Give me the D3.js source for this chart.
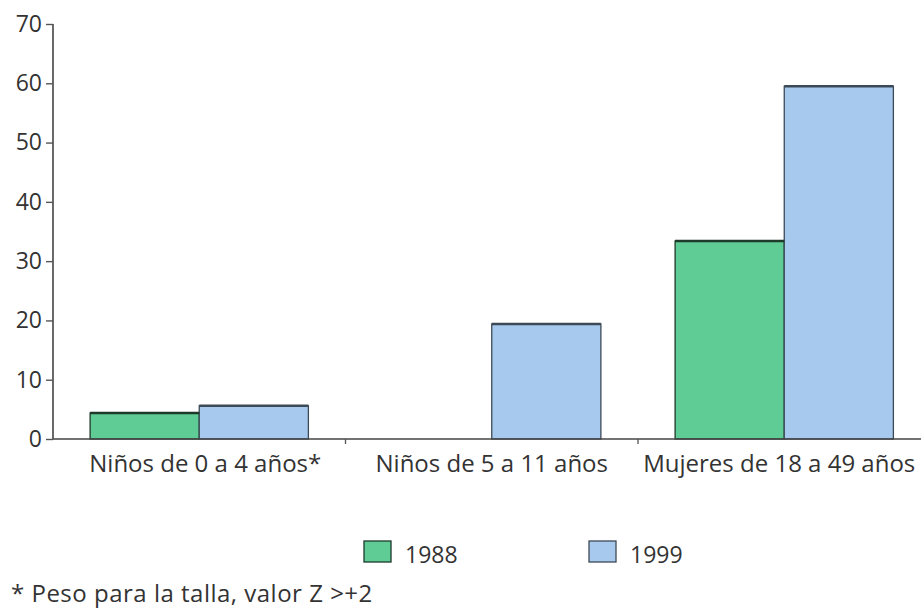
<!DOCTYPE html>
<html>
<head>
<meta charset="utf-8">
<script src="https://cdn.jsdelivr.net/npm/d3@7/dist/d3.min.js"></script>
<style>
  html, body { margin: 0; padding: 0; background: #fff; }
  svg { display: block; }
  text { font-family: "Open Sans", Lato, sans-serif; fill: #333; }
</style>
</head>
<body>
<svg id="chart" width="921" height="610"></svg>
<script>
const categories = ["Niños de 0 a 4 años*", "Niños de 5 a 11 años", "Mujeres de 18 a 49 años"];
const years = ["1988", "1999"];
const values1988 = [4.4, null, 33.4];
const values1999 = [5.6, 19.4, 59.5];
const yTicks = [0, 10, 20, 30, 40, 50, 60, 70];
const footnote = "* Peso para la talla, valor  Z >+2";

const colors = { "1988": "#5fcb95", "1999": "#a7c9ee" };
const edge = { "1988": "#1d3a2b", "1999": "#3c4a56" };

const svg = d3.select("#chart");
const mLeft = 53, mTop = 24, mBottom = 439;

const y = d3.scaleLinear().domain([0, 70]).range([mBottom, mTop]);
const x0 = d3.scaleBand().domain(categories).range([mLeft, mLeft + 3 * 292.5]).padding(0);
const x1 = d3.scaleBand().domain(years).range([0, x0.bandwidth()]).paddingInner(0).paddingOuter(0.34);

const data = [];
categories.forEach((c, i) => {
  data.push({ cat: c, year: "1988", v: values1988[i] });
  data.push({ cat: c, year: "1999", v: values1999[i] });
});
const bars = data.filter(d => d.v != null);

// bars
const g = svg.append("g");
g.selectAll("rect.bar").data(bars).enter().append("rect")
  .attr("class", "bar")
  .attr("x", d => x0(d.cat) + x1(d.year))
  .attr("y", d => y(d.v))
  .attr("width", x1.bandwidth())
  .attr("height", d => y(0) - y(d.v))
  .attr("fill", d => colors[d.year])
  .attr("stroke", d => edge[d.year])
  .attr("stroke-width", 1.3);
g.selectAll("line.top").data(bars).enter().append("line")
  .attr("x1", d => x0(d.cat) + x1(d.year))
  .attr("x2", d => x0(d.cat) + x1(d.year) + x1.bandwidth())
  .attr("y1", d => y(d.v)).attr("y2", d => y(d.v))
  .attr("stroke", d => edge[d.year]).attr("stroke-width", 2.5);

// y axis
const yAxis = d3.axisLeft(y).tickValues(yTicks).tickSize(7).tickPadding(4).tickFormat(d3.format("d"));
const ya = svg.append("g").attr("transform", `translate(${mLeft},0)`).call(yAxis);
ya.select(".domain").attr("stroke", "#444").attr("stroke-width", 1.6).attr("d", `M0,${mTop}V${mBottom}`);
ya.selectAll(".tick line").attr("stroke", "#555").attr("stroke-width", 1.4);
ya.selectAll(".tick text").style("font-size", "23px").style("font-family", "'Open Sans', sans-serif").attr("fill", "#333");

// x axis
const xa = svg.append("g").attr("transform", `translate(0,${mBottom})`);
xa.append("line").attr("x1", mLeft).attr("x2", 921).attr("y1", 0).attr("y2", 0)
  .attr("stroke", "#444").attr("stroke-width", 1.6);
xa.selectAll("line.sep").data(categories.slice(1)).enter().append("line")
  .attr("x1", d => x0(d)).attr("x2", d => x0(d)).attr("y1", 0).attr("y2", 5)
  .attr("stroke", "#555").attr("stroke-width", 1.3);
const labelShift = [6, 0, -5];
xa.selectAll("text.cat").data(categories).enter().append("text")
  .attr("x", (d, i) => x0(d) + x0.bandwidth() / 2 + labelShift[i])
  .attr("y", 33)
  .attr("text-anchor", "middle")
  .style("font-size", "24px")
  .text(d => d);

// legend
const legX = [364, 589];
const lg = svg.append("g");
years.forEach((yr, i) => {
  lg.append("rect").attr("x", legX[i]).attr("y", 541).attr("width", 27).attr("height", 21)
    .attr("fill", colors[yr]).attr("stroke", edge[yr]).attr("stroke-width", 1.3);
  lg.append("text").attr("x", legX[i] + 41).attr("y", 563).style("font-size", "23px").text(yr);
});

// footnote
svg.append("text").attr("x", 11).attr("y", 602).style("font-size", "24px")
  .style("letter-spacing", "0.5px").text(footnote);
</script>
</body>
</html>
